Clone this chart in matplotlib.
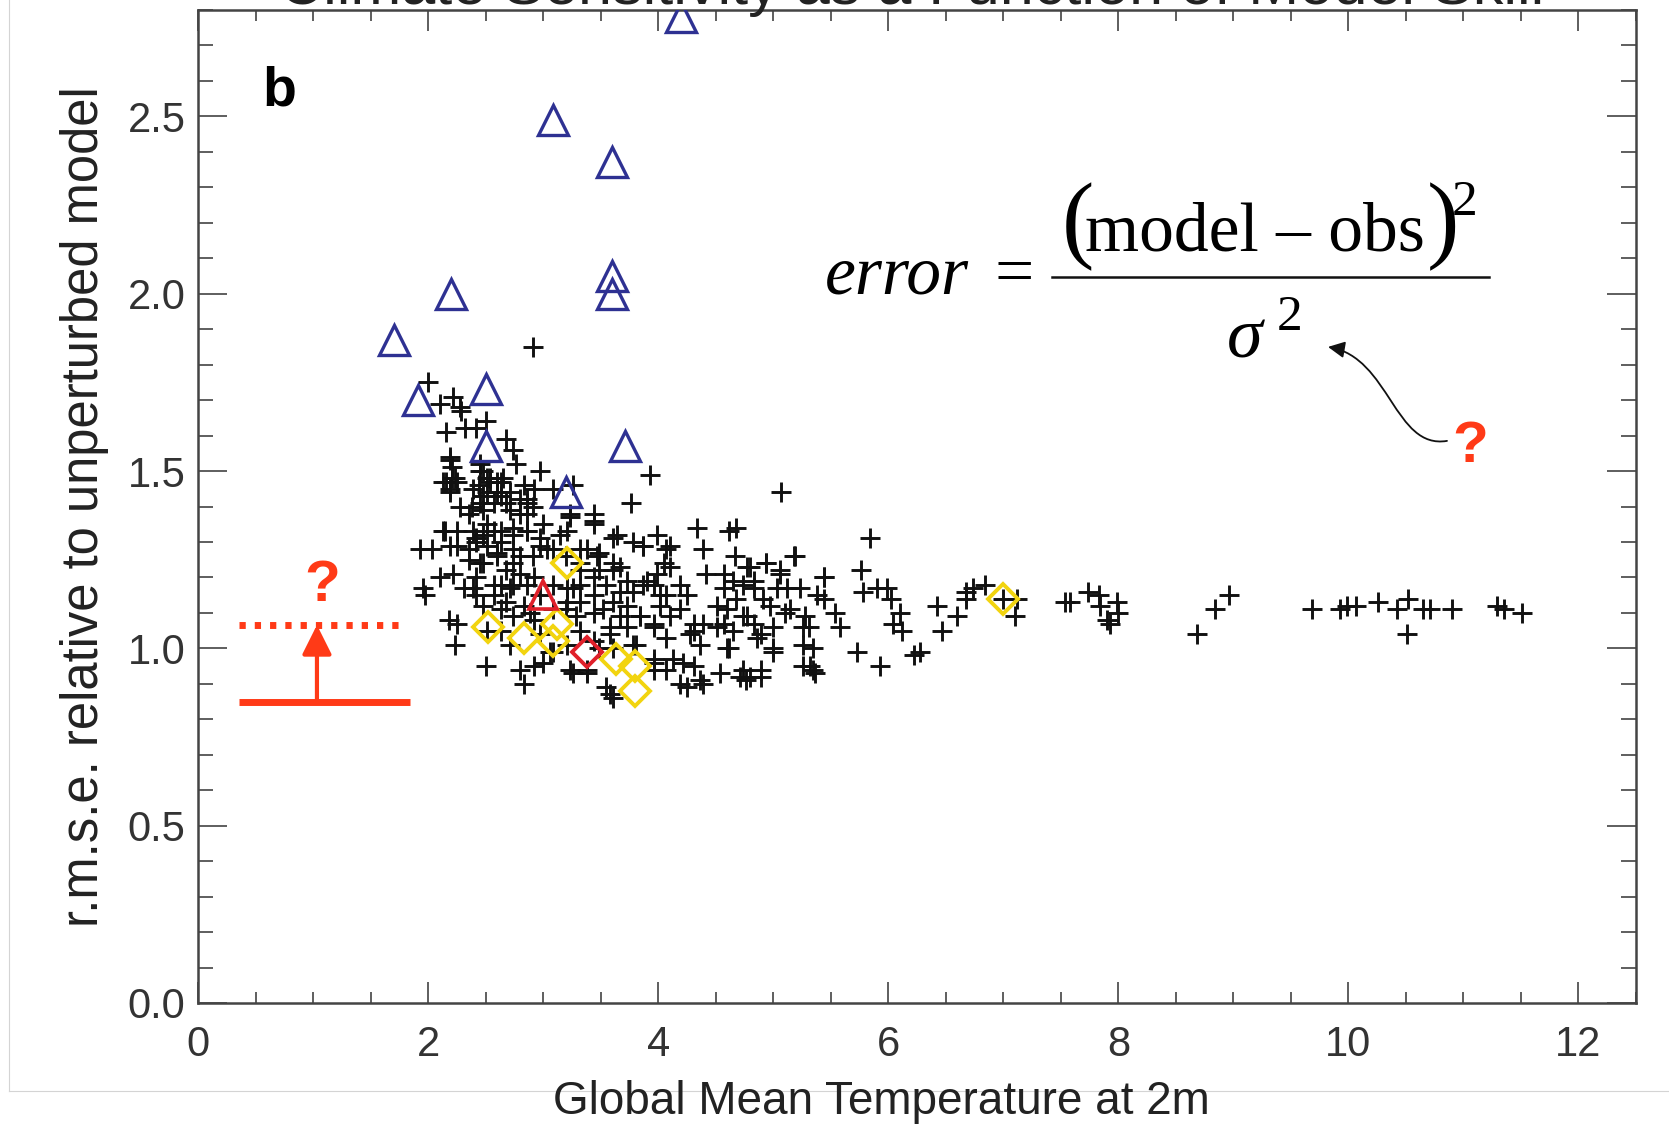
import matplotlib
matplotlib.use("Agg")
import matplotlib.pyplot as plt
from matplotlib.lines import Line2D
from matplotlib.patches import FancyArrowPatch
from matplotlib.path import Path
from matplotlib.ticker import MultipleLocator

plt.rcParams['font.family'] = ['Liberation Sans', 'DejaVu Sans']

# perturbed-physics ensemble members (black +)
ens_temp = [
    2.91, 2.00, 2.10, 2.22, 2.28, 2.29, 2.32, 2.16, 2.50, 2.42, 2.68, 2.74, 2.76, 2.19, 2.21, 2.16,
    2.23, 2.19, 2.97, 2.45, 2.48, 2.54, 2.60, 2.65, 2.44, 2.51, 2.63, 2.71, 2.83, 2.92, 2.86, 2.38,
    2.48, 2.71, 2.86, 2.57, 3.09,
    3.93, 3.76, 3.26, 3.23, 3.44, 5.07,
    1.93, 2.03, 2.15, 2.19, 2.25, 2.10, 2.22, 1.96, 1.97, 2.18, 2.25, 2.23, 2.50, 2.80, 2.83, 2.39,
    2.42, 2.51, 2.48, 2.60, 2.63, 2.74, 2.86, 2.97, 3.03, 2.74, 2.80, 2.63, 2.71, 2.57, 2.48, 2.63,
    2.74, 2.83, 2.92, 2.97, 3.09, 3.00, 2.71, 2.63, 2.51, 2.42, 2.36,
    3.44, 3.64, 3.99, 3.87, 4.10, 4.34, 4.39, 4.42, 4.10, 3.99, 4.02, 3.87, 3.73, 3.61, 3.49, 3.38,
    3.32, 3.26, 3.32, 3.44, 3.52, 3.67, 3.84, 3.96, 4.07, 4.31, 4.36, 4.51, 3.81, 3.96, 4.22, 4.25,
    4.39, 3.58, 3.26, 3.38, 3.58, 3.21,
    4.62, 4.68, 4.67, 4.57, 4.80, 4.94, 5.06, 5.19, 4.74, 4.83, 5.03, 5.12, 5.23, 4.68, 4.91, 4.97,
    4.60, 4.77, 4.83, 4.89, 4.65, 4.60, 5.10, 5.28, 5.31, 5.26, 5.00, 4.76, 4.89, 5.32, 5.36, 5.44,
    5.44, 5.54, 5.58, 5.73, 5.93, 5.84, 5.76, 5.78, 5.90, 5.99, 6.02, 6.10, 6.04, 6.12, 6.22, 6.28,
    6.42, 6.47, 6.60, 6.68, 6.74, 6.84, 6.68, 7.00,
    7.12, 7.10, 7.54, 7.58, 7.74, 7.83, 7.84, 7.99, 8.00, 7.90, 7.93, 8.68, 8.84, 8.96, 9.68, 9.93,
    9.99, 10.07, 10.26, 10.42, 10.52, 10.51, 10.65, 10.71, 10.90, 11.29, 11.35, 11.51,
    2.19, 2.21, 2.19, 2.45, 2.54, 2.60, 2.45, 2.36, 2.51, 2.68, 2.80, 2.86, 3.00, 2.74, 2.63, 2.48,
    2.36, 2.60, 2.80, 2.97, 3.15, 3.23, 3.44, 3.32, 3.47, 3.61, 3.49, 3.32, 3.21, 3.09, 2.92, 2.74,
    2.57, 2.42, 2.31, 2.68, 2.89, 3.21, 3.29, 3.44, 3.61, 3.58, 3.44, 3.21, 3.06, 2.92, 3.23, 3.38,
    3.55, 3.61, 3.78, 3.96, 4.13, 4.19, 4.36, 3.78, 3.87, 4.07, 3.67, 3.90, 4.05, 4.19, 3.78, 4.02,
    4.10, 4.25, 3.96, 4.28, 4.39, 4.51, 4.57, 4.65, 4.77, 4.83, 4.94, 5.06, 5.18, 5.44, 5.38, 4.57,
    4.74, 4.86, 5.00, 5.15, 5.26, 4.62, 5.00, 5.35, 4.80, 4.89, 4.31, 4.54,
    2.13, 2.25, 2.51, 2.39, 2.48, 2.63, 2.80, 2.91, 2.28, 2.13, 2.25, 2.39, 2.57, 2.86, 2.42, 2.74,
    2.91, 3.09, 3.20, 2.45, 2.68, 2.86, 2.97, 3.20, 3.09, 3.32, 3.49, 3.61, 3.73, 3.84, 3.73, 3.32,
    3.44, 3.55, 3.61, 3.67, 3.96, 4.07, 4.19, 4.31, 3.96, 4.07, 4.71, 4.74, 5.26, 5.35,
]
ens_rmse = [
    1.85, 1.75, 1.69, 1.71, 1.68, 1.67, 1.62, 1.61, 1.64, 1.62, 1.59, 1.56, 1.52, 1.54, 1.51, 1.47,
    1.48, 1.44, 1.50, 1.52, 1.50, 1.48, 1.47, 1.48, 1.46, 1.44, 1.43, 1.44, 1.46, 1.45, 1.42, 1.40,
    1.39, 1.39, 1.38, 1.41, 1.45,
    1.49, 1.41, 1.46, 1.38, 1.38, 1.44,
    1.28, 1.28, 1.33, 1.29, 1.29, 1.20, 1.21, 1.17, 1.15, 1.08, 1.07, 1.01, 0.95, 0.94, 0.90, 1.17,
    1.31, 1.29, 1.24, 1.27, 1.33, 1.34, 1.33, 1.31, 1.28, 1.24, 1.21, 1.18, 1.17, 1.15, 1.12, 1.11,
    1.09, 1.12, 1.08, 1.04, 0.99, 0.96, 1.01, 1.05, 1.05, 1.15, 1.25,
    1.35, 1.32, 1.32, 1.29, 1.29, 1.34, 1.28, 1.21, 1.23, 1.21, 1.15, 1.18, 1.19, 1.22, 1.27, 1.28,
    1.24, 1.17, 1.13, 1.15, 1.11, 1.09, 1.09, 1.07, 1.03, 1.05, 1.01, 1.06, 1.01, 0.96, 0.96, 0.89,
    0.90, 0.87, 0.93, 0.93, 1.04, 1.33,
    1.33, 1.34, 1.26, 1.21, 1.23, 1.24, 1.22, 1.26, 1.18, 1.19, 1.17, 1.17, 1.17, 1.14, 1.14, 1.12,
    1.11, 1.09, 1.07, 1.04, 1.05, 1.00, 1.10, 1.09, 1.06, 1.01, 0.99, 0.91, 0.92, 0.95, 0.93, 1.20,
    1.14, 1.10, 1.06, 0.99, 0.95, 1.31, 1.22, 1.16, 1.17, 1.17, 1.14, 1.10, 1.07, 1.05, 0.98, 0.99,
    1.12, 1.05, 1.09, 1.16, 1.17, 1.18, 1.14, 1.14,
    1.14, 1.09, 1.13, 1.13, 1.16, 1.15, 1.12, 1.13, 1.10, 1.08, 1.07, 1.04, 1.11, 1.15, 1.11, 1.11,
    1.12, 1.12, 1.13, 1.11, 1.14, 1.04, 1.11, 1.11, 1.11, 1.12, 1.11, 1.10,
    1.53, 1.48, 1.45, 1.50, 1.47, 1.44, 1.41, 1.38, 1.35, 1.41, 1.38, 1.41, 1.35, 1.32, 1.30, 1.32,
    1.28, 1.26, 1.26, 1.29, 1.32, 1.37, 1.36, 1.28, 1.26, 1.31, 1.22, 1.18, 1.17, 1.18, 1.20, 1.18,
    1.18, 1.20, 1.17, 1.13, 1.10, 1.13, 1.09, 1.10, 1.13, 1.06, 1.02, 1.01, 0.99, 0.95, 0.94, 0.94,
    0.89, 0.86, 1.01, 0.97, 0.97, 0.90, 0.91, 1.30, 1.29, 1.28, 1.23, 1.19, 1.24, 1.18, 1.16, 1.12,
    1.09, 1.15, 1.06, 1.04, 1.07, 1.12, 1.17, 1.19, 1.23, 1.17, 1.24, 1.21, 1.26, 1.20, 1.15, 1.07,
    1.09, 1.03, 1.06, 1.11, 1.06, 1.00, 1.00, 0.94, 0.92, 0.94, 0.95, 0.93,
    1.47, 1.47, 1.48, 1.45, 1.43, 1.47, 1.42, 1.40, 1.40, 1.33, 1.33, 1.33, 1.33, 1.33, 1.30, 1.28,
    1.26, 1.28, 1.26, 1.24, 1.22, 1.18, 1.15, 1.11, 1.11, 1.05, 1.00, 1.00, 1.06, 1.09, 1.12, 1.22,
    1.20, 1.18, 1.24, 1.16, 1.18, 1.15, 1.11, 1.07, 0.94, 0.94, 0.92, 0.94, 0.95, 1.00,
]

# IPCC AR4 models (blue triangles)
ipcc_temp = [4.20, 3.09, 3.60, 3.60, 3.60, 2.20, 1.70, 1.91, 2.50, 2.50, 3.71, 3.20]
ipcc_rmse = [2.78, 2.49, 2.37, 2.05, 2.00, 2.00, 1.87, 1.70, 1.73, 1.57, 1.57, 1.44]

# highlighted members
yellow_temp = [3.21, 2.52, 2.83, 3.12, 3.09, 3.63, 3.80, 3.80, 7.00]
yellow_rmse = [1.24, 1.06, 1.03, 1.07, 1.02, 0.97, 0.95, 0.88, 1.14]
red_tri_temp, red_tri_rmse = [3.00], [1.15]
red_dia_temp, red_dia_rmse = [3.38], [0.99]

RED = '#ff3a17'
BLUE = '#2e3192'

fig = plt.figure(figsize=(16.69, 11.27), dpi=100)
ax = fig.add_axes([198 / 1669, 124 / 1127, 1438 / 1669, 993 / 1127])

ax.plot(ens_temp, ens_rmse, linestyle='none', marker='+', ms=15, mew=2.1, color='#111111', zorder=3)
ax.plot(ipcc_temp, ipcc_rmse, linestyle='none', marker='^', ms=21, mew=2.4, mfc='none', mec=BLUE, zorder=4)
ax.plot(yellow_temp, yellow_rmse, linestyle='none', marker='D', ms=15, mew=2.8, mfc='none', mec='#f2d40f', zorder=4)
ax.plot(red_tri_temp, red_tri_rmse, linestyle='none', marker='^', ms=20, mew=2.6, mfc='none', mec='#e0202a', zorder=5)
ax.plot(red_dia_temp, red_dia_rmse, linestyle='none', marker='D', ms=15, mew=2.8, mfc='none', mec='#e0202a', zorder=5)

ax.set_xlim(0, 12.5)
ax.set_ylim(0, 2.8)
ax.xaxis.set_major_locator(MultipleLocator(2))
ax.xaxis.set_minor_locator(MultipleLocator(0.5))
ax.yaxis.set_major_locator(MultipleLocator(0.5))
ax.yaxis.set_minor_locator(MultipleLocator(0.1))
ax.yaxis.set_major_formatter(lambda v, p: f'{v:.1f}')

ax.tick_params(which='both', direction='in', top=True, right=True, color='#333333', width=1.1)
ax.tick_params(axis='x', which='major', length=15, pad=16, labelsize=30, labelcolor='#333333')
ax.tick_params(axis='x', which='minor', length=8)
ax.tick_params(axis='y', which='major', length=21, pad=9, labelsize=30, labelcolor='#333333')
ax.tick_params(axis='y', which='minor', length=11)
for s in ax.spines.values():
    s.set_linewidth(1.8)
    s.set_color('#444444')

ax.set_xlabel('Global Mean Temperature at 2m', fontsize=33, color='#222222')
ax.xaxis.set_label_coords(0.475, -0.078)
ax.set_ylabel('r.m.s.e. relative to unperturbed model', fontsize=36.5, color='#222222')
ax.yaxis.set_label_coords(-0.062, 0.4995)

ax.text(0.71, 2.53, 'b', fontsize=40, fontweight='bold', ha='center', va='baseline')

# formula
serif = ['Liberation Serif', 'DejaVu Serif']
ax.text(5.45, 2.002, 'error', family=serif, style='italic', fontsize=50, va='baseline')
ax.text(7.09, 2.0, '=', family=serif, fontsize=50, ha='center', va='baseline')
ax.plot([7.42, 11.22], [2.048, 2.048], color='#111111', lw=1.8)
ax.text(7.51, 2.124, '(', family=serif, fontsize=70, va='baseline')
ax.text(9.19, 2.121, 'model \u2013 obs', family=serif, fontsize=50, ha='center', va='baseline')
ax.text(10.68, 2.124, ')', family=serif, fontsize=70, va='baseline')
ax.text(10.90, 2.222, '2', family=serif, fontsize=37, va='baseline')
ax.text(8.945, 1.819, '\u03c3', family=serif, style='italic', fontsize=52, va='baseline')
ax.text(9.38, 1.898, '2', family=serif, fontsize=37, va='baseline')

curve = Path([(10.857, 1.585), (10.40, 1.56), (10.36, 1.82), (9.823, 1.85)],
             [Path.MOVETO, Path.CURVE4, Path.CURVE4, Path.CURVE4])
ax.add_patch(FancyArrowPatch(path=curve, arrowstyle='-|>,head_length=0.5,head_width=0.25',
                             mutation_scale=20, lw=1.3, color='#111111'))
ax.text(11.06, 1.568, '?', fontsize=42, fontweight='bold', color=RED, ha='center', va='center')

# left-hand annotation
ax.plot([0.36, 1.77], [1.066, 1.066], color=RED, lw=5, linestyle=(0, (0.9, 1.3)), solid_capstyle='butt')
ax.plot([0.36, 1.84], [0.849, 0.849], color=RED, lw=5, solid_capstyle='butt')
ax.annotate('', xy=(1.034, 1.066), xytext=(1.034, 0.849),
            arrowprops=dict(arrowstyle='-|>,head_length=0.6,head_width=0.3', mutation_scale=30,
                            lw=3, color=RED, shrinkA=0, shrinkB=0))
ax.text(1.082, 1.176, '?', fontsize=42, fontweight='bold', color=RED, ha='center', va='center')

fig.text(912 / 1669, 1 - 4 / 1127, 'Climate Sensitivity as a Function of Model Skill',
         fontsize=44, ha='center', va='baseline', color='#222222')

# faint border of the original figure panel
fig.add_artist(Line2D([8.5 / 1669, 8.5 / 1669], [1, 1 - 1091 / 1127], transform=fig.transFigure,
                      color='#d4d4d4', lw=0.8, zorder=-1))
fig.add_artist(Line2D([8.5 / 1669, 1], [1 - 1091 / 1127, 1 - 1091 / 1127], transform=fig.transFigure,
                      color='#d4d4d4', lw=0.8, zorder=-1))

fig.savefig('out.png', dpi=100)
